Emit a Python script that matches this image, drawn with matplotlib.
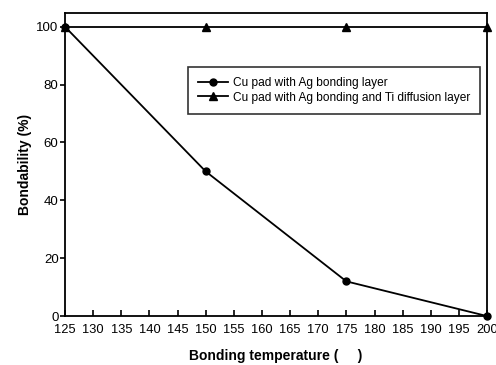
import matplotlib
matplotlib.use("Agg")
import matplotlib.pyplot as plt

plt.rcParams['font.family'] = ['Liberation Sans', 'DejaVu Sans']

temperature = [125, 150, 175, 200]
ag_layer = [100, 50, 12, 0]
ag_ti_layer = [100, 100, 100, 100]
x_ticks = list(range(125, 201, 5))
y_ticks = [0, 20, 40, 60, 80, 100]

fig = plt.figure(figsize=(4.96, 3.65), dpi=100)
ax = fig.add_axes([0.131, 0.134, 0.851, 0.830])

ax.plot(temperature, ag_layer, color='black', lw=1.3, marker='o', ms=5,
        label='Cu pad with Ag bonding layer', clip_on=False, zorder=3)
ax.plot(temperature, ag_ti_layer, color='black', lw=1.3, marker='^', ms=6,
        label='Cu pad with Ag bonding and Ti diffusion layer', clip_on=False, zorder=3)

ax.set_xlim(125, 200)
ax.set_ylim(0, 104.7)
ax.set_xticks(x_ticks)
ax.set_yticks(y_ticks)
ax.tick_params(axis='x', direction='in', length=4, width=1.2, labelsize=9.3, pad=6)
ax.tick_params(axis='y', direction='out', length=3.6, width=1.2, labelsize=9.5, pad=1)
for s in ax.spines.values():
    s.set_linewidth(1.3)

ax.set_xlabel('Bonding temperature (     )', fontsize=10, fontweight='bold', labelpad=9)
ax.set_ylabel('Bondability (%)', fontsize=10, fontweight='bold', labelpad=3)

leg = ax.legend(loc='upper left', bbox_to_anchor=(0.291, 0.822), borderaxespad=0,
                fontsize=8.6, frameon=True, fancybox=False, edgecolor='black',
                handlelength=2.5, borderpad=0.85, labelspacing=0.2, handletextpad=0.4)
leg.get_frame().set_linewidth(1.2)

fig.savefig('out.png', dpi=100)
